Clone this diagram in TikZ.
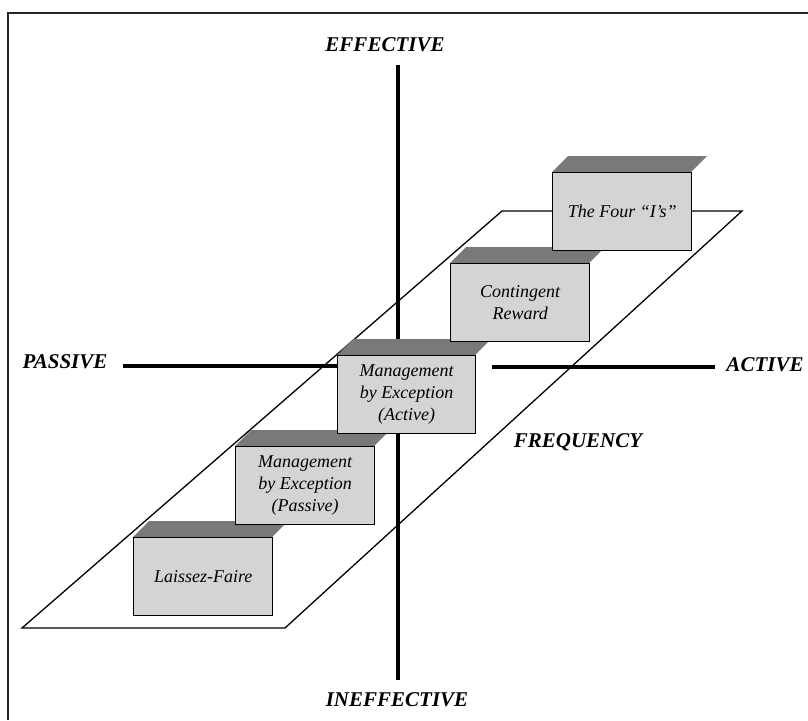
\documentclass[tikz,border=0pt]{standalone}
\usepackage{fontspec}
\setmainfont{Liberation Serif}
\begin{document}
\begin{tikzpicture}[x=1pt,y=-1pt,
  frameline/.style={line width=1.1pt, black!85},
  axis/.style={line width=3.2pt, black},
  plane/.style={line width=1.3pt, black},
  axislabel/.style={font=\fontsize{21}{24}\selectfont\bfseries\itshape, inner sep=0pt},
  face/.style={draw=black, line width=1.4pt, fill=gray!34, minimum width=139pt,
    minimum height=78pt, inner sep=0pt, align=center, anchor=north west,
    font=\fontsize{18}{22}\selectfont\itshape},
  lid/.style={fill=gray!95!black, draw=none}]
\useasboundingbox (0,0) rectangle (808,720);

% frame
\draw[frameline] (8,720) -- (8,13) -- (808,13);

% sloping plane
\coordinate (p1) at (22,628);
\coordinate (p2) at (285,628);
\coordinate (p3) at (742,211);
\coordinate (p4) at (502,211);
\draw[plane, line join=miter] (p1) -- (p2) -- (p3) -- (p4) -- cycle;

% axes
\coordinate (vtop) at (398,65);
\coordinate (vbot) at (398,680);
\coordinate (hl1) at (123,366);
\coordinate (hl2) at (338,366);
\coordinate (hr1) at (492,367);
\coordinate (hr2) at (715,367);
\draw[axis] (vtop) -- (vbot);
\draw[axis] (hl1) -- (hl2);
\draw[axis] (hr1) -- (hr2);

% axis labels
\node[axislabel] (eff) at (385,45) {EFFECTIVE};
\node[axislabel] (ineff) at (397,700) {INEFFECTIVE};
\node[axislabel] (pas) at (65,362) {PASSIVE};
\node[axislabel] (act) at (765,365) {ACTIVE};
\node[axislabel] (freq) at (578,442) {FREQUENCY};

% blocks, front to back
\fill[lid] (133,537) -- ++(16,-16) -- ++(139,0) -- ++(-16,16) -- cycle;
\node[face] (lf) at (133,537) {Laissez-Faire};

\fill[lid] (235,446) -- ++(16,-16) -- ++(139,0) -- ++(-16,16) -- cycle;
\node[face] (mbep) at (235,446) {Management\\by Exception\\(Passive)};

\fill[lid] (337,355) -- ++(16,-16) -- ++(138,0) -- ++(-16,16) -- cycle;
\node[face, minimum width=138pt] (mbea) at (337,355) {Management\\by Exception\\(Active)};

\fill[lid] (450,263) -- ++(16,-16) -- ++(139,0) -- ++(-16,16) -- cycle;
\node[face] (cr) at (450,263) {Contingent\\Reward};

\fill[lid] (552,172) -- ++(16,-16) -- ++(139,0) -- ++(-16,16) -- cycle;
\node[face] (four) at (552,172) {The Four “I’s”};
\end{tikzpicture}
\end{document}
